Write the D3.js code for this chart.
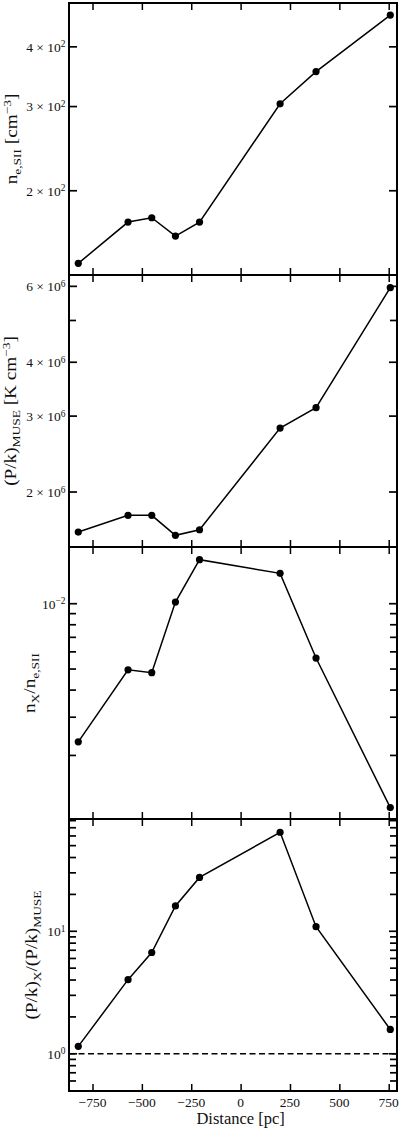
<!DOCTYPE html>
<html>
<head>
<meta charset="utf-8">
<script src="https://cdn.jsdelivr.net/npm/d3@7"></script>
<style>
  body { margin: 0; background: #fff; }
  text { font-family: "Liberation Serif", "DejaVu Serif", serif; fill: #111; }
</style>
</head>
<body>
<svg id="chart" width="400" height="1131"></svg>
<script>
// data
const distance = [-822, -570, -450, -330, -208, 200, 382, 758];
const neSII = [141, 172, 175.6, 160.8, 172, 304, 355, 466];
const pkMuse = [1.615e6, 1.766e6, 1.766e6, 1.587e6, 1.635e6, 2.815e6, 3.138e6, 5.957e6];
const nxRatio = [2.31e-3, 4.96e-3, 4.81e-3, 1.018e-2, 1.595e-2, 1.38e-2, 5.62e-3, 1.15e-3];
const pkRatio = [1.15, 4.03, 6.71, 16.1, 27.5, 64.3, 10.9, 1.58];

const xTicks = [-750, -500, -250, 0, 250, 500, 750];
const xTickLabels = ["\u2212750", "\u2212500", "\u2212250", "0", "250", "500", "750"];

const ticks1 = [200, 300, 400];
const labels1 = ["2 \u00d7 10^2", "3 \u00d7 10^2", "4 \u00d7 10^2"];
const ticks2 = [2e6, 3e6, 4e6, 6e6];
const labels2 = ["2 \u00d7 10^6", "3 \u00d7 10^6", "4 \u00d7 10^6", "6 \u00d7 10^6"];
const minor2 = [5e6];
const ticks3 = [1e-2];
const labels3 = ["10^\u22122"];
const minor3 = [2e-3, 3e-3, 4e-3, 5e-3, 6e-3, 7e-3, 8e-3, 9e-3];
const ticks4 = [1, 10];
const labels4 = ["10^0", "10^1"];
const minor4 = [0.6, 0.7, 0.8, 0.9, 2, 3, 4, 5, 6, 7, 8, 9, 20, 30, 40, 50, 60, 70, 80];

const svg = d3.select("#chart");
const left = 69, right = 397, plotTop = 3, panelH = 272;
const labFs = 16;

const x = d3.scaleLinear().domain([-869, 792]).range([left, right]);

const panels = [
  { values: neSII, domain: [133.3, 494], ticks: ticks1, labels: labels1, minor: [],
    ylabel: [["n", ""], ["e,SII", "sub"], [" [cm", ""], ["\u22123", "sup"], ["]", ""]], lx: 17 },
  { values: pkMuse, domain: [1.491e6, 6.375e6], ticks: ticks2, labels: labels2, minor: minor2,
    ylabel: [["(P/k)", ""], ["MUSE", "sub"], [" [K cm", ""], ["\u22123", "sup"], ["]", ""]], lx: 16 },
  { values: nxRatio, domain: [1.019e-3, 1.825e-2], ticks: ticks3, labels: labels3, minor: minor3,
    ylabel: [["n", ""], ["X", "sub"], ["/n", ""], ["e,SII", "sub"]], lx: 35 },
  { values: pkRatio, domain: [0.497, 82.5], ticks: ticks4, labels: labels4, minor: minor4,
    ylabel: [["(P/k)", ""], ["X", "sub"], ["/(P/k)", ""], ["MUSE", "sub"]], lx: 37, ref: 1 }
];

// write text with ^ superscript
function richLabel(sel, str) {
  const parts = str.split("^");
  sel.append("tspan").text(parts[0]);
  if (parts.length > 1) {
    sel.append("tspan").attr("font-size", "70%").attr("dy", "-0.45em").text(parts[1]);
  }
}

function segLabel(sel, segs) {
  let shift = 0;
  segs.forEach(([t, mode]) => {
    const target = mode === "sub" ? 0.25 : mode === "sup" ? -0.38 : 0;
    const ts = sel.append("tspan").text(t).attr("dy", ((target - shift) * labFs).toFixed(1));
    if (mode) ts.attr("font-size", "70%");
    shift = target;
  });
}

// inward ticks on a vertical edge
function yTicks(g, scale, vals, xEdge, len) {
  g.selectAll(null).data(vals).join("path")
    .attr("d", d => `M${xEdge},${scale(d)}h${len}`)
    .attr("stroke", "#000").attr("stroke-width", 1.7);
}

panels.forEach((p, i) => {
  const y0 = plotTop + i * panelH, y1 = y0 + panelH;
  const y = d3.scaleLog().domain(p.domain).range([y1, y0]);
  const g = svg.append("g");

  // x ticks, bottom and top, pointing in
  g.append("g").attr("transform", `translate(0,${y1})`)
    .call(d3.axisBottom(x).tickValues(xTicks).tickSize(-7).tickFormat(""));
  g.append("g").attr("transform", `translate(0,${y0})`)
    .call(d3.axisTop(x).tickValues(xTicks).tickSize(-7).tickFormat(""));
  g.selectAll(".domain").remove();
  g.selectAll(".tick line").attr("stroke", "#000").attr("stroke-width", 1.5);

  // y ticks both sides
  yTicks(g, y, p.minor, left, 7);
  yTicks(g, y, p.minor, right, -7);
  yTicks(g, y, p.ticks, left, 8);
  yTicks(g, y, p.ticks, right, -8);

  g.selectAll(null).data(p.ticks).join("text")
    .attr("x", left - 3.5).attr("y", d => y(d)).attr("dy", "0.36em")
    .attr("text-anchor", "end").attr("font-size", 13.5)
    .each(function(d, k) { richLabel(d3.select(this), p.labels[k]); });

  if (p.ref) {
    g.append("line")
      .attr("x1", left).attr("x2", right)
      .attr("y1", y(p.ref)).attr("y2", y(p.ref))
      .attr("stroke", "#000").attr("stroke-width", 1.6)
      .attr("stroke-dasharray", "6,3.5");
  }

  const pts = distance.map((d, k) => [d, p.values[k]]);
  g.append("path")
    .attr("d", d3.line().x(d => x(d[0])).y(d => y(d[1]))(pts))
    .attr("fill", "none").attr("stroke", "#000").attr("stroke-width", 1.5);
  g.selectAll("circle").data(pts).join("circle")
    .attr("cx", d => x(d[0])).attr("cy", d => y(d[1]))
    .attr("r", 3.6).attr("fill", "#000");

  g.append("rect")
    .attr("x", left).attr("y", y0).attr("width", right - left).attr("height", panelH)
    .attr("fill", "none").attr("stroke", "#000").attr("stroke-width", 2);

  // rotated y label, stretched a little along its baseline
  const lab = g.append("text")
    .attr("transform", `translate(${p.lx},${(y0 + y1) / 2}) rotate(-90) scale(1.2,1)`)
    .attr("text-anchor", "middle").attr("font-size", labFs);
  segLabel(lab, p.ylabel);
});

// bottom axis labels
const bottom = plotTop + 4 * panelH;
svg.append("g").selectAll("text").data(xTicks).join("text")
  .attr("x", d => x(d)).attr("y", bottom + 15.5)
  .attr("text-anchor", "middle").attr("font-size", 13.5)
  .text((d, k) => xTickLabels[k]);

svg.append("text")
  .attr("x", x(0)).attr("y", bottom + 33)
  .attr("text-anchor", "middle").attr("font-size", 16.5)
  .text("Distance [pc]");
</script>
</body>
</html>
